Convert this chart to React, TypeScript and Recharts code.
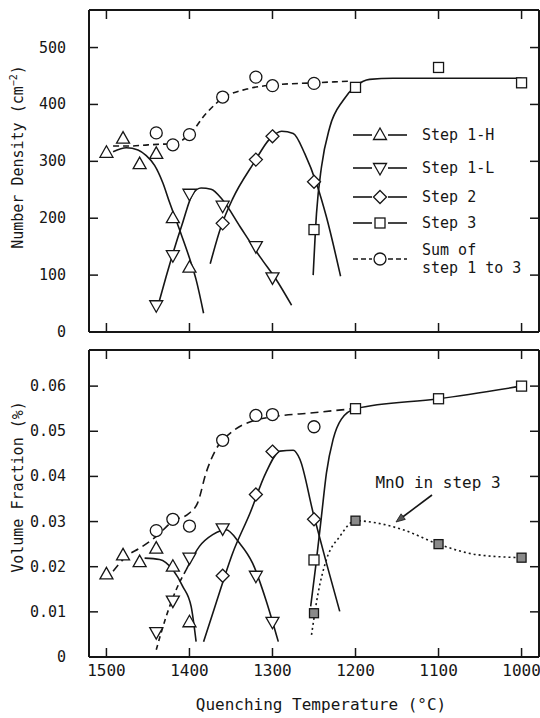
import React from "react";
import { ComposedChart, Line, Scatter, XAxis, YAxis, Legend } from "recharts";

type Pt = { t: number; v: number };

// axis ticks
const tempTicks = [1500, 1400, 1300, 1200, 1100, 1000];
const densityTicks = [0, 100, 200, 300, 400, 500];
const fractionTicks = [0, 0.01, 0.02, 0.03, 0.04, 0.05, 0.06];

// ---- number density (cm^-2): measured points ----
const densStep1H: Pt[] = [
  { t: 1500, v: 315 }, { t: 1480, v: 340 }, { t: 1460, v: 295 },
  { t: 1440, v: 313 }, { t: 1420, v: 200 }, { t: 1400, v: 113 },
];
const densStep1L: Pt[] = [
  { t: 1440, v: 47 }, { t: 1420, v: 135 }, { t: 1400, v: 243 },
  { t: 1360, v: 222 }, { t: 1320, v: 151 }, { t: 1300, v: 96 },
];
const densStep2: Pt[] = [
  { t: 1360, v: 191 }, { t: 1320, v: 303 }, { t: 1300, v: 344 }, { t: 1250, v: 264 },
];
const densStep3: Pt[] = [
  { t: 1250, v: 180 }, { t: 1200, v: 430 }, { t: 1100, v: 465 }, { t: 1000, v: 438 },
];
const densSum: Pt[] = [
  { t: 1440, v: 350 }, { t: 1420, v: 329 }, { t: 1400, v: 347 }, { t: 1360, v: 413 },
  { t: 1320, v: 448 }, { t: 1300, v: 433 }, { t: 1250, v: 437 },
];

// ---- number density: hand-drawn fitting curves ----
const densStep1HFit: Pt[] = [
  { t: 1492, v: 317 }, { t: 1476, v: 324 }, { t: 1462, v: 320 }, { t: 1452, v: 310 },
  { t: 1442, v: 293 }, { t: 1432, v: 262 }, { t: 1424, v: 228 }, { t: 1412, v: 180 },
  { t: 1400, v: 130 }, { t: 1392, v: 92 }, { t: 1383, v: 33 },
];
const densStep1LFit: Pt[] = [
  { t: 1436, v: 56 }, { t: 1428, v: 98 }, { t: 1420, v: 138 }, { t: 1408, v: 193 },
  { t: 1396, v: 243 }, { t: 1386, v: 253 }, { t: 1374, v: 251 }, { t: 1360, v: 232 },
  { t: 1339, v: 185 }, { t: 1315, v: 132 }, { t: 1295, v: 91 }, { t: 1277, v: 47 },
];
const densStep2Fit: Pt[] = [
  { t: 1375, v: 120 }, { t: 1362, v: 185 }, { t: 1348, v: 234 }, { t: 1323, v: 296 },
  { t: 1303, v: 340 }, { t: 1289, v: 353 }, { t: 1275, v: 349 }, { t: 1261, v: 313 },
  { t: 1247, v: 261 }, { t: 1235, v: 202 }, { t: 1218, v: 98 },
];
const densStep3Fit: Pt[] = [
  { t: 1251, v: 100 }, { t: 1247, v: 208 }, { t: 1241, v: 290 }, { t: 1231, v: 360 },
  { t: 1215, v: 407 }, { t: 1199, v: 433 }, { t: 1183, v: 444 }, { t: 1155, v: 446 },
  { t: 1000, v: 446 },
];
const densSumFit: Pt[] = [
  { t: 1492, v: 327 }, { t: 1470, v: 327 }, { t: 1450, v: 329 }, { t: 1435, v: 330 },
  { t: 1420, v: 331 }, { t: 1400, v: 347 }, { t: 1380, v: 384 }, { t: 1360, v: 411 },
  { t: 1331, v: 427 }, { t: 1300, v: 434 }, { t: 1250, v: 438 }, { t: 1206, v: 441 },
];

// ---- volume fraction (%): measured points ----
const fracStep1H: Pt[] = [
  { t: 1500, v: 0.0183 }, { t: 1480, v: 0.0225 }, { t: 1460, v: 0.021 },
  { t: 1440, v: 0.024 }, { t: 1420, v: 0.02 }, { t: 1400, v: 0.0077 },
];
const fracStep1L: Pt[] = [
  { t: 1440, v: 0.0055 }, { t: 1420, v: 0.0125 }, { t: 1400, v: 0.022 },
  { t: 1360, v: 0.0285 }, { t: 1320, v: 0.018 }, { t: 1300, v: 0.0078 },
];
const fracStep2: Pt[] = [
  { t: 1360, v: 0.018 }, { t: 1320, v: 0.036 }, { t: 1300, v: 0.0455 }, { t: 1250, v: 0.0305 },
];
const fracStep3: Pt[] = [
  { t: 1250, v: 0.0215 }, { t: 1200, v: 0.055 }, { t: 1100, v: 0.0572 }, { t: 1000, v: 0.06 },
];
const fracMnO: Pt[] = [
  { t: 1250, v: 0.0097 }, { t: 1200, v: 0.0302 }, { t: 1100, v: 0.025 }, { t: 1000, v: 0.022 },
];
const fracSum: Pt[] = [
  { t: 1440, v: 0.028 }, { t: 1420, v: 0.0305 }, { t: 1400, v: 0.029 }, { t: 1360, v: 0.048 },
  { t: 1320, v: 0.0535 }, { t: 1300, v: 0.0537 }, { t: 1250, v: 0.051 },
];

// ---- volume fraction: fitting curves ----
const fracStep1HFit: Pt[] = [
  { t: 1454, v: 0.0219 }, { t: 1436, v: 0.0216 }, { t: 1420, v: 0.0193 },
  { t: 1408, v: 0.0156 }, { t: 1398, v: 0.0112 }, { t: 1392, v: 0.0034 },
];
const fracStep1LFitLow: Pt[] = [
  { t: 1440, v: 0.0016 }, { t: 1428, v: 0.009 }, { t: 1416, v: 0.0149 }, { t: 1404, v: 0.0193 },
];
const fracStep1LFit: Pt[] = [
  { t: 1404, v: 0.0193 }, { t: 1388, v: 0.0245 }, { t: 1372, v: 0.0271 }, { t: 1356, v: 0.0282 },
  { t: 1340, v: 0.0253 }, { t: 1324, v: 0.0208 }, { t: 1308, v: 0.0127 }, { t: 1293, v: 0.0034 },
];
const fracStep2Fit: Pt[] = [
  { t: 1383, v: 0.0034 }, { t: 1368, v: 0.0119 }, { t: 1348, v: 0.023 }, { t: 1327, v: 0.0319 },
  { t: 1308, v: 0.0408 }, { t: 1291, v: 0.0456 }, { t: 1275, v: 0.0458 }, { t: 1267, v: 0.0438 },
  { t: 1251, v: 0.0319 }, { t: 1235, v: 0.0208 }, { t: 1219, v: 0.0101 },
];
const fracStep3Fit: Pt[] = [
  { t: 1254, v: 0.0112 }, { t: 1248, v: 0.02 }, { t: 1241, v: 0.0312 }, { t: 1235, v: 0.0408 },
  { t: 1227, v: 0.0482 }, { t: 1217, v: 0.0527 }, { t: 1200, v: 0.055 }, { t: 1100, v: 0.0572 },
  { t: 1000, v: 0.06 },
];
const fracMnOFit: Pt[] = [
  { t: 1253, v: 0.0049 }, { t: 1245, v: 0.0142 }, { t: 1235, v: 0.0216 }, { t: 1219, v: 0.0267 },
  { t: 1200, v: 0.0302 }, { t: 1175, v: 0.0297 }, { t: 1143, v: 0.0282 }, { t: 1100, v: 0.025 },
  { t: 1055, v: 0.0227 }, { t: 1000, v: 0.022 },
];
const fracSumFit: Pt[] = [
  { t: 1492, v: 0.019 }, { t: 1476, v: 0.0223 }, { t: 1460, v: 0.0241 }, { t: 1440, v: 0.0267 },
  { t: 1420, v: 0.0301 }, { t: 1400, v: 0.0319 }, { t: 1390, v: 0.0342 }, { t: 1380, v: 0.0408 },
  { t: 1368, v: 0.046 }, { t: 1348, v: 0.05 }, { t: 1324, v: 0.0523 }, { t: 1300, v: 0.0532 },
  { t: 1251, v: 0.0541 }, { t: 1203, v: 0.055 },
];

const FONT = "'DejaVu Sans Mono', 'Liberation Mono', monospace";
const INK = "#161616";
const TICK_LEN = 9;
const TEMP_DOMAIN: [number, number] = [979, 1521];
const axisLineStyle = { stroke: INK, strokeWidth: 2 };

type MarkerKind = "up" | "down" | "diamond" | "square" | "circle" | "filled";

function Marker({ kind, cx, cy }: { kind: MarkerKind; cx: number; cy: number }) {
  const common = { fill: "#fff", stroke: INK, strokeWidth: 1.3 };
  if (kind === "up")
    return <polygon points={`${cx},${cy - 7} ${cx - 6.5},${cy + 4.5} ${cx + 6.5},${cy + 4.5}`} {...common} />;
  if (kind === "down")
    return <polygon points={`${cx},${cy + 7} ${cx - 6.5},${cy - 4.5} ${cx + 6.5},${cy - 4.5}`} {...common} />;
  if (kind === "diamond")
    return <polygon points={`${cx},${cy - 6.5} ${cx + 6.5},${cy} ${cx},${cy + 6.5} ${cx - 6.5},${cy}`} {...common} />;
  if (kind === "square") return <rect x={cx - 5} y={cy - 5} width={10} height={10} {...common} />;
  if (kind === "filled")
    return <rect x={cx - 4.5} y={cy - 4.5} width={9} height={9} fill="#8a8a8a" stroke={INK} strokeWidth={1.3} />;
  return <circle cx={cx} cy={cy} r={6} {...common} />;
}

const shapeOf = (kind: MarkerKind) => (p: any) => <Marker kind={kind} cx={p.cx} cy={p.cy} />;

function BottomTick(p: any) {
  const { x, y, payload, showLabel } = p;
  return (
    <g>
      <line x1={x} x2={x} y1={y} y2={y - TICK_LEN} stroke={INK} strokeWidth={1.5} />
      {showLabel && (
        <text x={x} y={y + 19} textAnchor="middle" fontFamily={FONT} fontSize={16} fill={INK}>
          {payload.value}
        </text>
      )}
    </g>
  );
}

function TopTick(p: any) {
  const { x, y } = p;
  return <line x1={x} x2={x} y1={y} y2={y + TICK_LEN} stroke={INK} strokeWidth={1.5} />;
}

function LeftTick(p: any) {
  const { x, y, payload, fmt } = p;
  return (
    <g>
      <line x1={x} x2={x + TICK_LEN} y1={y} y2={y} stroke={INK} strokeWidth={1.5} />
      <text x={x - 23} y={y} dy={5} textAnchor="end" fontFamily={FONT} fontSize={15} fill={INK}>
        {fmt(payload.value)}
      </text>
    </g>
  );
}

function RightTick(p: any) {
  const { x, y } = p;
  return <line x1={x} x2={x - TICK_LEN} y1={y} y2={y} stroke={INK} strokeWidth={1.5} />;
}

// the plot box: labelled axes at bottom/left, bare axes at top/right, all with inward ticks
function frameAxes(
  id: string,
  yDomain: [number, number],
  yTicks: number[],
  fmt: (v: number) => string,
  showXLabels: boolean,
  xHeight: number
) {
  return [
    <XAxis key={id + "xb"} dataKey="t" type="number" domain={TEMP_DOMAIN} reversed allowDataOverflow
      ticks={tempTicks} interval={0} height={xHeight} tickSize={0} tickMargin={0} tickLine={false}
      axisLine={axisLineStyle} tick={(p: any) => <BottomTick {...p} showLabel={showXLabels} />} />,
    <XAxis key={id + "xt"} xAxisId="top" orientation="top" dataKey="t" type="number" domain={TEMP_DOMAIN}
      reversed allowDataOverflow ticks={tempTicks} interval={0} height={1} tickSize={0} tickMargin={0}
      tickLine={false} axisLine={axisLineStyle} tick={(p: any) => <TopTick {...p} />} />,
    <YAxis key={id + "yl"} dataKey="v" type="number" domain={yDomain} allowDataOverflow ticks={yTicks}
      interval={0} width={89} tickSize={0} tickMargin={0} tickLine={false} axisLine={axisLineStyle}
      tick={(p: any) => <LeftTick {...p} fmt={fmt} />} />,
    <YAxis key={id + "yr"} yAxisId="r" orientation="right" type="number" domain={yDomain} allowDataOverflow
      ticks={yTicks} interval={0} width={1} tickSize={0} tickMargin={0} tickLine={false}
      axisLine={axisLineStyle} tick={(p: any) => <RightTick {...p} />} />,
  ];
}

function fit(key: string, data: Pt[], dash?: string) {
  return (
    <Line key={key} data={data} dataKey="v" type="monotone" stroke={INK} strokeWidth={1.6}
      strokeDasharray={dash} dot={false} activeDot={false} isAnimationActive={false} />
  );
}

function marks(key: string, data: Pt[], kind: MarkerKind) {
  return <Scatter key={key} data={data} dataKey="v" shape={shapeOf(kind)} isAnimationActive={false} />;
}

const legendRows: { label: string[]; kind: MarkerKind; dash?: string; y: number }[] = [
  { label: ["Step 1-H"], kind: "up", y: 15 },
  { label: ["Step 1-L"], kind: "down", y: 48 },
  { label: ["Step 2"], kind: "diamond", y: 77 },
  { label: ["Step 3"], kind: "square", y: 103 },
  { label: ["Sum of", "step 1 to 3"], kind: "circle", dash: "5 3", y: 139 },
];

function LegendBox() {
  return (
    <svg width={195} height={165} style={{ display: "block", overflow: "visible" }}>
      {legendRows.map((r) => (
        <g key={r.label[0]}>
          <line x1={8} x2={27} y1={r.y} y2={r.y} stroke={INK} strokeWidth={1.6} strokeDasharray={r.dash} />
          <line x1={43} x2={62} y1={r.y} y2={r.y} stroke={INK} strokeWidth={1.6} strokeDasharray={r.dash} />
          <Marker kind={r.kind} cx={35} cy={r.y} />
          {r.label.map((s, i) => (
            <text key={s} x={77} y={r.y + 5 + (i - (r.label.length - 1) / 2) * 18} fontFamily={FONT}
              fontSize={15} fill={INK}>
              {s}
            </text>
          ))}
        </g>
      ))}
    </svg>
  );
}

const fmtDensity = (v: number) => String(v);
const fmtFraction = (v: number) => (v === 0 ? "0" : v.toFixed(2));

export default function App() {
  return (
    <div style={{ position: "absolute", left: 0, top: 0, width: 540, height: 718, background: "#fff" }}>
      <div style={{ position: "absolute", left: 0, top: 0 }}>
        <ComposedChart width={540} height={340} margin={{ top: 9, right: 0, bottom: 0, left: 0 }}>
          {frameAxes("d", [0, 566], densityTicks, fmtDensity, false, 8)}
          {fit("d1h", densStep1HFit)}
          {fit("d1l", densStep1LFit)}
          {fit("d2", densStep2Fit)}
          {fit("d3", densStep3Fit)}
          {fit("ds", densSumFit, "6 4")}
          {marks("m1h", densStep1H, "up")}
          {marks("m1l", densStep1L, "down")}
          {marks("m2", densStep2, "diamond")}
          {marks("m3", densStep3, "square")}
          {marks("ms", densSum, "circle")}
          <Legend layout="vertical" align="center" verticalAlign="middle"
            wrapperStyle={{ left: 345, top: 120, width: 195, height: 165 }} content={() => <LegendBox />} />
        </ComposedChart>
      </div>
      <div style={{ position: "absolute", left: 0, top: 340 }}>
        <ComposedChart width={540} height={378} margin={{ top: 9, right: 0, bottom: 0, left: 0 }}>
          {frameAxes("f", [0, 0.068], fractionTicks, fmtFraction, true, 61)}
          {fit("f1h", fracStep1HFit)}
          {fit("f1lo", fracStep1LFitLow, "5 4")}
          {fit("f1l", fracStep1LFit)}
          {fit("f2", fracStep2Fit)}
          {fit("f3", fracStep3Fit)}
          {fit("fmno", fracMnOFit, "2 3")}
          {fit("fs", fracSumFit, "8 5")}
          {marks("n1h", fracStep1H, "up")}
          {marks("n1l", fracStep1L, "down")}
          {marks("n2", fracStep2, "diamond")}
          {marks("n3", fracStep3, "square")}
          {marks("nmno", fracMnO, "filled")}
          {marks("ns", fracSum, "circle")}
        </ComposedChart>
      </div>
      <svg width={540} height={718} style={{ position: "absolute", left: 0, top: 0, pointerEvents: "none" }}>
        <g fontFamily={FONT} fill={INK} style={{ whiteSpace: "pre" }}>
          <text transform="translate(23,157) rotate(-90)" textAnchor="middle" fontSize={15}>
            Number Density  (cm<tspan dy={-6} fontSize={10}>−2</tspan><tspan dy={6}>)</tspan>
          </text>
          <text transform="translate(23,487) rotate(-90)" textAnchor="middle" fontSize={15}>
            Volume Fraction  (%)
          </text>
          <text x={321} y={710} textAnchor="middle" fontSize={16}>
            Quenching Temperature  (°C)
          </text>
          <text x={438} y={488} textAnchor="middle" fontSize={16}>
            MnO in step 3
          </text>
        </g>
        <line x1={432} y1={495} x2={402} y2={517.5} stroke={INK} strokeWidth={1.6} />
        <polygon points="396,522 405.3,519.4 401.1,513.8" fill="#555" stroke={INK} strokeWidth={0.8} />
      </svg>
    </div>
  );
}
